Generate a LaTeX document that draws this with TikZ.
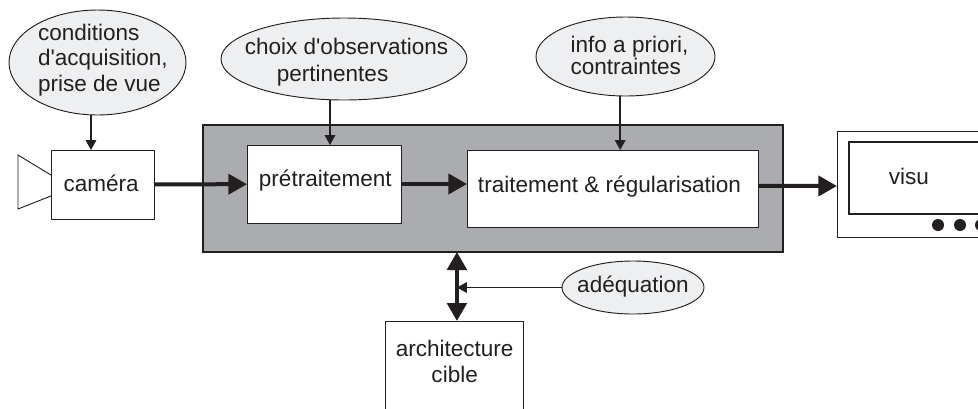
\documentclass[tikz,border=0pt]{standalone}
\usepackage{fontspec}
\setmainfont{Liberation Sans}[Ligatures=TeXOff]
\usetikzlibrary{arrows.meta,shapes.geometric}
\definecolor{ink}{HTML}{231F20}
\definecolor{panel}{HTML}{ABACAF}
\definecolor{oval}{HTML}{EEEFF0}
% text of fixed offset from the node centre, takes no room in the node
\newcommand{\nudge}[4][c]{\makebox[0pt]{\hspace{#2}\hspace{#2}\raisebox{\dimexpr #3-.25em\relax}[0pt][0pt]{\begin{tabular}{@{}#1@{}}#4\end{tabular}}}}
\tikzset{
	% box style
	box/.style={
		rectangle,
		draw=ink, line width=0.7pt,
		fill=white,
		inner sep=0pt, outer sep=0pt
	},
	% ellipse style
	cloud/.style={
		ellipse,
		draw=ink, line width=0.7pt,
		fill=oval,
		inner sep=0pt, outer sep=0pt
	},
	% thin arrow style
	arrow/.style={
		-{Triangle[length=7.5pt,width=8pt]},
		ink, line width=1.1pt
	},
	% thick arrow style
	bigarrow/.style={
		-{Triangle[length=14pt,width=15pt]},
		ink, line width=3pt
	},
	% both ways arrow style
	busarrow/.style={
		{Triangle[length=13.5pt,width=14.5pt]}-{Triangle[length=13.5pt,width=14.5pt]},
		ink, line width=3.2pt
	}
}

\begin{document}
\begin{tikzpicture}[x=0.75pt,y=-0.75pt,font=\fontsize{16.9}{19}\selectfont,text=ink]
	\path[use as bounding box,clip] (0,0) rectangle (978,408);

	\node[box,fill=panel,line width=1.8pt,minimum width=435pt,minimum height=95.25pt] (chain) at (493,188.5) {};

	\node[box,minimum width=77.25pt,minimum height=51.75pt] (camera) at (102.5,184.5)
		{\nudge{-1pt}{-1.5pt}{caméra}};
	\node[box,minimum width=115.5pt,minimum height=58.5pt] (pretraitement) at (324,184)
		{\nudge{1pt}{1.75pt}{prétraitement}};
	\node[box,minimum width=218.25pt,minimum height=57.75pt] (traitement) at (612.5,188.5)
		{\nudge{-2.25pt}{1pt}{traitement \& régularisation}};
	\node[box,minimum width=129.75pt,minimum height=79.5pt] (monitor) at (923.5,184) {};
	\node[box,line width=1pt,minimum width=105.75pt,minimum height=54pt] (visu) at (919.5,178)
		{\nudge{-7.9pt}{-1.5pt}{visu}};
	\node[box,minimum width=103.5pt,minimum height=74.25pt] (architecture) at (454,370.5)
		{\nudge{0.5pt}{4.5pt}{architecture\\[0.5pt]cible}};

	\node[cloud,minimum width=132.75pt,minimum height=78.75pt] (conditions) at (97.5,62.5)
		{\nudge[l]{4pt}{1.1pt}{conditions\\d'acquisition,\\prise de vue}};
	\node[cloud,minimum width=184.5pt,minimum height=61.5pt] (choix) at (344,59)
		{\nudge[l]{1.9pt}{-3.2pt}{choix d'observations\\[1.2pt]\hspace*{24pt}pertinentes}};
	\node[cloud,minimum width=134.25pt,minimum height=59.25pt] (info) at (625.5,56.5)
		{\nudge[l]{3pt}{-1.2pt}{info a priori,\\[-2.5pt]contraintes}};
	\node[cloud,minimum width=106.5pt,minimum height=39.75pt] (adequation) at (633,287.5)
		{\nudge{0pt}{0pt}{adéquation}};

	\foreach \i/\x in {a/938,b/960,c/981}
		\node[circle,fill=ink,inner sep=0pt,minimum size=9pt] (dot\i) at (\x,225) {};

	% camera lens
	\coordinate (lenstop) at (18,155);
	\coordinate (lensbot) at (18,209);
	\draw[ink,line width=0.7pt] ([yshift=7.1pt]camera.west) -- (lenstop) -- (lensbot) -- ([yshift=-8.6pt]camera.west);

	\draw[bigarrow] (camera) -- (pretraitement);
	\draw[bigarrow] (pretraitement.east) -- (pretraitement.east -| traitement.west);
	\draw[bigarrow] ([yshift=1.9pt]traitement.east) -- ([yshift=-1.5pt]monitor.west);

	\draw[arrow] ([xshift=-4.9pt]conditions.south) -- ([xshift=-4.9pt]conditions.south |- camera.north);
	\draw[arrow] ([xshift=-10.5pt]choix.south) -- ([xshift=-10.5pt]choix.south |- pretraitement.north);
	\draw[arrow] ([xshift=-4pt]info.south) -- ([xshift=-4pt]info.south |- traitement.north);

	\coordinate (busfoot) at ([xshift=2.2pt]architecture.north);
	\draw[busarrow] (busfoot) -- (busfoot |- chain.south);
	\draw[arrow] (adequation.west) -- (adequation.west -| busfoot);
\end{tikzpicture}
\end{document}
